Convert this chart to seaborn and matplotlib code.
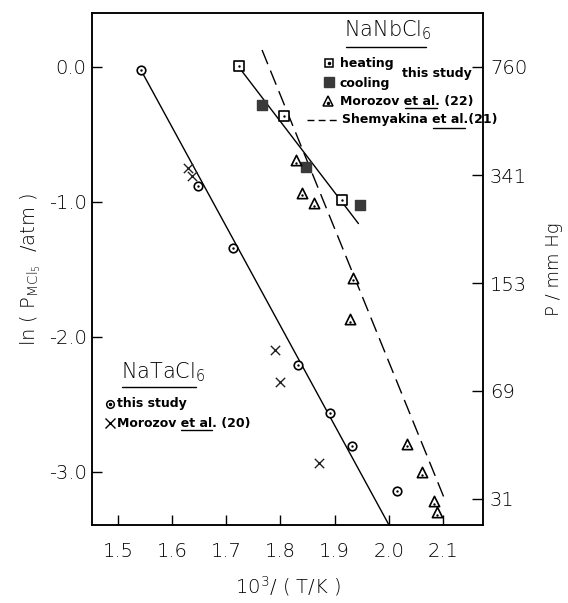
#vapour pressure of MCl5 over NaNbCl6 / NaTaCl6 melts, ln P vs 1000/T
import numpy as np
import pandas as pd
import seaborn as sns
import matplotlib.pyplot as plt

# NaTaCl6 - this study (circles) and Morozov et al. (20) (crosses)
ta_x = [1.542, 1.648, 1.712, 1.832, 1.891, 1.932, 2.015]
ta_y = [-0.02, -0.88, -1.34, -2.21, -2.56, -2.81, -3.14]
ta_fit_x = [1.542, 2.0]
ta_fit_y = [-0.02, -3.39]
moro20_x = [1.629, 1.637, 1.790, 1.799, 1.871]
moro20_y = [-0.75, -0.81, -2.10, -2.33, -2.93]

# NaNbCl6 - heating / cooling (this study), Morozov et al. (22), Shemyakina et al. (21)
heat_x = [1.723, 1.806, 1.914]
heat_y = [0.01, -0.36, -0.985]
cool_x = [1.766, 1.847, 1.947]
cool_y = [-0.28, -0.74, -1.02]
nb_fit_x = [1.723, 1.944]
nb_fit_y = [0.0, -1.16]
moro22_x = [1.829, 1.840, 1.862, 1.934, 1.928, 2.034, 2.061, 2.083, 2.089]
moro22_y = [-0.69, -0.93, -1.01, -1.56, -1.87, -2.79, -3.00, -3.215, -3.30]
shem_x = [1.766, 2.102]
shem_y = [0.126, -3.19]

# right axis: pressure in mm Hg
p_ticks = [760, 341, 153, 69, 31]

sns.set_theme(style="ticks")
plt.rcParams["font.family"] = ["DejaVu Sans"]
plt.rcParams["axes.linewidth"] = 1.1
for k in ("text.color", "axes.labelcolor", "xtick.color", "ytick.color", "axes.edgecolor"):
    plt.rcParams[k] = "black"
plt.rcParams["mathtext.fontset"] = "custom"
plt.rcParams["mathtext.rm"] = "DejaVu Sans:light"
plt.rcParams["mathtext.it"] = "DejaVu Sans:light"

fig = plt.figure(figsize=(5.68, 6.03), dpi=100)
ax = fig.add_axes([92/568, 1-525/603, (483-92)/568, (525-13)/603])

ta = pd.DataFrame({"x": ta_x, "y": ta_y})
m20 = pd.DataFrame({"x": moro20_x, "y": moro20_y})
ht = pd.DataFrame({"x": heat_x, "y": heat_y})
cl = pd.DataFrame({"x": cool_x, "y": cool_y})
m22 = pd.DataFrame({"x": moro22_x, "y": moro22_y})

# fitted lines
sns.lineplot(x=ta_fit_x, y=ta_fit_y, color="black", lw=1.0, ax=ax)
sns.lineplot(x=nb_fit_x, y=nb_fit_y, color="black", lw=1.0, ax=ax)
sns.lineplot(x=shem_x, y=shem_y, color="black", lw=1.0, linestyle=(0, (11, 5)), ax=ax)

# symbols
sns.scatterplot(data=ta, x="x", y="y", marker="o", s=38, facecolor="white", edgecolor="black", linewidth=1.2, ax=ax, zorder=3)
sns.scatterplot(data=m20, x="x", y="y", marker="x", s=45, color="#222222", linewidth=1.0, ax=ax, zorder=3)
sns.scatterplot(data=ht, x="x", y="y", marker="s", s=48, facecolor="white", edgecolor="black", linewidth=1.2, ax=ax, zorder=3)
sns.scatterplot(data=cl, x="x", y="y", marker="s", s=60, color="#3a3a3a", edgecolor="#3a3a3a", linewidth=1.0, ax=ax, zorder=3)
sns.scatterplot(data=m22, x="x", y="y", marker="^", s=55, facecolor="white", edgecolor="black", linewidth=1.2, ax=ax, zorder=3)
# centre dots of the open symbols
for d in (ta, ht):
    sns.scatterplot(data=d, x="x", y="y", marker="o", s=3, color="black", linewidth=0, ax=ax, zorder=4)
sns.scatterplot(x=m22["x"], y=m22["y"] - 0.02, marker="o", s=3, color="black", linewidth=0, ax=ax, zorder=4)

ax.set_xlim(1.452, 2.174)
ax.set_ylim(-3.393, 0.4)
ax.set_xticks([1.5, 1.6, 1.7, 1.8, 1.9, 2.0, 2.1])
ax.set_xticklabels(["1.5", "1.6", "1.7", "1.8", "1.9", "2.0", "2.1"], fontweight="light")
ax.set_yticks([0.0, -1.0, -2.0, -3.0])
ax.set_yticklabels(["0.0", "-1.0", "-2.0", "-3.0"], fontweight="light")
ax.tick_params(axis="x", direction="in", length=7, width=1.0, labelsize=14, pad=12)
ax.tick_params(axis="y", direction="in", length=7, width=1.0, labelsize=14, pad=4)
ax.set_xlabel("10$^3$/ ( T/K )", fontsize=14, labelpad=10, fontweight="light")
ax.set_ylabel(r"ln ( P$_{\mathrm{MCl_5}}$  /atm )", fontsize=14, labelpad=4, fontweight="light")

ax2 = ax.twinx()
ax2.set_ylim(ax.get_ylim())
ax2.set_yticks(np.log(np.array(p_ticks) / 760.0))
ax2.set_yticklabels([str(p) for p in p_ticks], fontweight="light")
ax2.tick_params(axis="y", direction="in", length=8, width=1.0, labelsize=14, pad=5)
ax2.set_ylabel("P / mm Hg", fontsize=13, labelpad=13, fontweight="light")
ax2.grid(False)

# hand-made legends, positions in pixels of the 568x603 picture
def pa(px, py):
    return ((px - 92) / (483 - 92), (525 - py) / (525 - 13))

T = ax.transAxes
kw = dict(transform=T, fontsize=9, fontweight="bold", va="center", ha="left", clip_on=False)

# NaNbCl6 block
ax.text(*pa(344, 30), "NaNbCl$_6$", transform=T, fontsize=15, va="center", ha="left", fontweight="light")
ax.plot(*zip(pa(346, 47), pa(426, 47)), transform=T, color="black", lw=1.0)
ax.plot(*pa(329, 63), transform=T, marker="s", ms=6, mfc="white", mec="black", mew=1.1)
ax.plot(*pa(329, 63), transform=T, marker="o", ms=1.5, color="black")
ax.text(*pa(340, 63), "heating", **kw)
ax.plot(*pa(329, 82), transform=T, marker="s", ms=6.5, color="#3a3a3a")
ax.text(*pa(340, 83), "cooling", **kw)
ax.text(*pa(402, 73), "this study", **kw)
ax.plot(*pa(328, 101), transform=T, marker="^", ms=7, mfc="white", mec="black", mew=1.1)
ax.plot(*pa(328, 102.5), transform=T, marker="o", ms=1.5, color="black")
ax.text(*pa(340, 101), "Morozov et al. (22)", **kw)
ax.plot(*zip(pa(405, 108), pa(437, 108)), transform=T, color="black", lw=1.0, clip_on=False)
ax.plot(*zip(pa(307, 120), pa(339, 120)), transform=T, color="black", lw=1.0, linestyle=(0, (5, 3)))
ax.text(*pa(342, 120), "Shemyakina et al.(21)", **kw)
ax.plot(*zip(pa(433, 128), pa(465, 128)), transform=T, color="black", lw=1.0, clip_on=False)

# NaTaCl6 block
ax.text(*pa(121, 372), "NaTaCl$_6$", transform=T, fontsize=15, va="center", ha="left", fontweight="light")
ax.plot(*zip(pa(122, 387), pa(196, 387)), transform=T, color="black", lw=1.0)
ax.plot(*pa(110, 404), transform=T, marker="o", ms=5.5, mfc="white", mec="black", mew=1.1)
ax.plot(*pa(110, 404), transform=T, marker="o", ms=1.5, color="black")
ax.text(*pa(117, 404), "this study", **kw)
ax.plot(*pa(110, 423), transform=T, marker="x", ms=7, color="black", mew=1.0)
ax.text(*pa(117, 423), "Morozov et al. (20)", **kw)
ax.plot(*zip(pa(181, 430), pa(212, 430)), transform=T, color="black", lw=1.0)

fig.savefig("out.png", dpi=100, facecolor="white")
